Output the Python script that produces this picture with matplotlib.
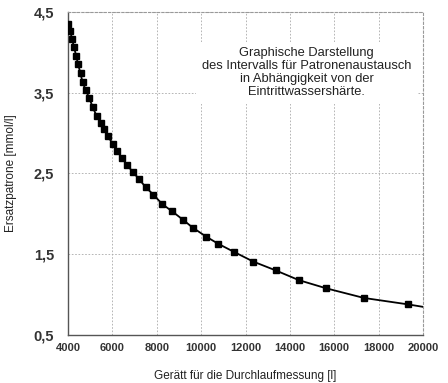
import matplotlib
matplotlib.use("Agg")
import matplotlib.pyplot as plt

# values
volume = [4000, 4100, 4180, 4270, 4360, 4450, 4560, 4650, 4800, 4960,
          5110, 5290, 5470, 5600, 5790, 6010, 6200, 6430, 6670, 6920,
          7200, 7500, 7840, 8250, 8700, 9170, 9620, 10220, 10770, 11480,
          12350, 13370, 14410, 15630, 17340, 19340]
hardness = [4.35, 4.26, 4.16, 4.06, 3.96, 3.85, 3.74, 3.63, 3.53, 3.43,
            3.32, 3.21, 3.12, 3.05, 2.96, 2.87, 2.78, 2.69, 2.60, 2.52,
            2.43, 2.33, 2.24, 2.12, 2.03, 1.93, 1.83, 1.72, 1.63, 1.53,
            1.41, 1.30, 1.18, 1.08, 0.96, 0.88]
line_end_x = 20000
line_end_y = 0.85

xticks = [4000, 6000, 8000, 10000, 12000, 14000, 16000, 18000, 20000]
yticks = [0.5, 1.5, 2.5, 3.5, 4.5]
ytick_labels = ["0,5", "1,5", "2,5", "3,5", "4,5"]

plt.rcParams["font.family"] = ["Liberation Sans", "DejaVu Sans"]

fig = plt.figure(figsize=(4.48, 3.83), dpi=100)
ax = fig.add_axes([0.152, 0.125, 0.792, 0.844])

ax.plot(volume + [line_end_x], hardness + [line_end_y], color="black", lw=1.3, zorder=3)
ax.plot(volume, hardness, ls="none", marker="s", ms=4.2, color="black", zorder=4)

ax.set_xlim(4000, 20000)
ax.set_ylim(0.5, 4.5)
ax.set_xticks(xticks)
ax.set_yticks(yticks)
ax.set_xticklabels([str(v) for v in xticks], fontsize=8, fontweight="bold", color="#333333")
ax.set_yticklabels(ytick_labels, fontsize=10.5, fontweight="bold", color="#333333")
ax.tick_params(length=0, pad=6)
ax.tick_params(axis="y", pad=10)

ax.grid(True, ls=(0, (2, 2)), lw=0.6, color="#aaaaaa")
for side in ["top", "right"]:
    ax.spines[side].set_linestyle((0, (2, 2)))
    ax.spines[side].set_color("#999999")
    ax.spines[side].set_linewidth(0.8)
for side in ["left", "bottom"]:
    ax.spines[side].set_color("#555555")
    ax.spines[side].set_linewidth(1.0)

ax.set_xlabel("Gerätt für die Durchlaufmessung [l]", fontsize=8.5, labelpad=12, color="#222222")
ax.set_ylabel("Ersatzpatrone [mmol/l]", fontsize=8.5, labelpad=12, color="#222222")

ax.text(0.672, 0.812,
        "Graphische Darstellung\ndes Intervalls für Patronenaustausch\n"
        "in Abhängigkeit von der\nEintrittwassershärte.",
        transform=ax.transAxes, ha="center", va="center", fontsize=9.3,
        color="#222222", linespacing=1.1, zorder=5,
        bbox=dict(facecolor="white", edgecolor="none", pad=4))

fig.savefig("out.png", dpi=100)
